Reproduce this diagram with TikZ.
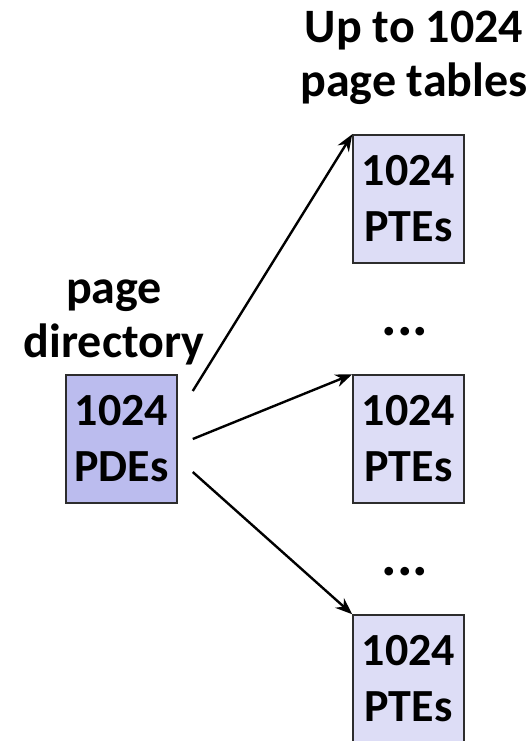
\documentclass[tikz,border=0pt]{standalone}
\usepackage{fontspec}
\setmainfont{Carlito}
\usetikzlibrary{arrows.meta}
\usetikzlibrary{positioning}
\definecolor{pdeblue}{RGB}{187,188,238}
\definecolor{pteblue}{RGB}{221,221,246}
\definecolor{edgegray}{RGB}{45,45,45}
\tikzset{table/.style = {draw = edgegray, line width = 1.5, minimum width = 111, minimum height = 128, inner sep = 0, align = center, font = \bfseries\fontsize{46}{56}\selectfont}}
\tikzset{lbl/.style = {align = center, inner sep = 0, font = \bfseries\fontsize{48}{54}\selectfont}}
\tikzset{ptr/.style = {line width = 2.4, -{Stealth[length = 17, width = 13]}}}

\begin{document}
\begin{tikzpicture}[x=1pt, y=-1pt]
      \useasboundingbox (0, 0) rectangle (531, 741);
      \node [table, fill=pdeblue] (pdir) at (121.5, 439) {1024\\PDEs};
      \foreach \i/\y in {1/199, 2/439, 3/679} {
        \node [table, fill=pteblue] (pt\i) at (408.5, \y) {1024\\PTEs};
      }
      % base is the baseline of the last line
      \node [lbl, anchor=base] (dirlbl) at (114, 357) {page\\directory};
      \node [lbl, anchor=base] (ptlbl) at (414, 97) {Up to 1024\\page tables};
      \node [lbl, font=\bfseries\fontsize{58}{58}\selectfont] (dots1) at (405, 332) {...};
      \node [lbl, font=\bfseries\fontsize{58}{58}\selectfont] (dots2) at (405, 572) {...};
      \foreach \i/\dy in {1/-48, 2/0, 3/33} {
        \coordinate (src\i) at ([shift={(15, \dy)}]pdir.east);
        \draw [ptr] (src\i) -- (pt\i.north west);
      }
    \end{tikzpicture}
\end{document}
